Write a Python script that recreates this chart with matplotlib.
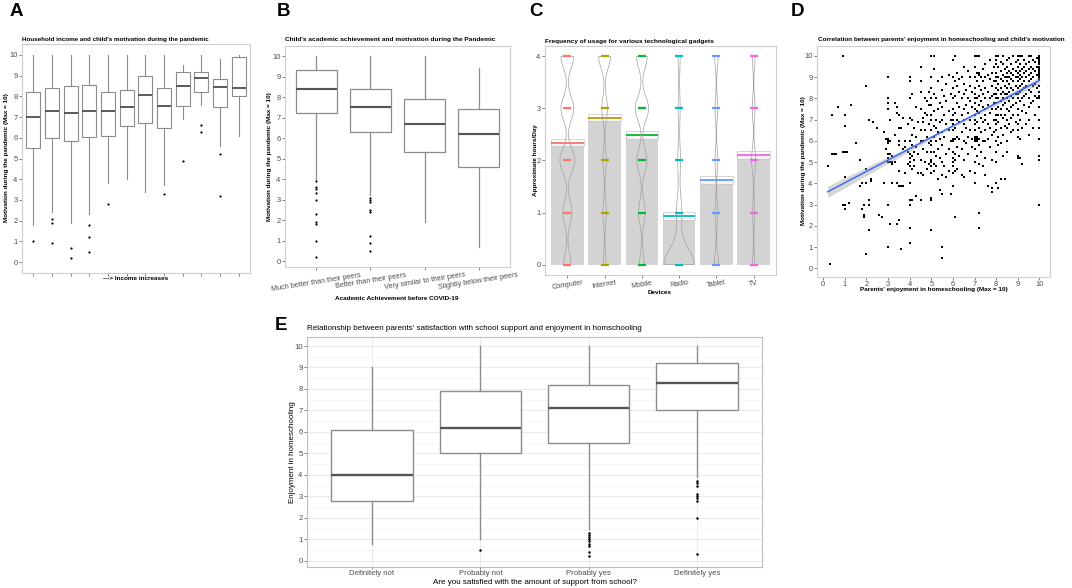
import numpy as np
import matplotlib
matplotlib.use("Agg")
import matplotlib.pyplot as plt
from matplotlib.patches import Rectangle

plt.rcParams['font.family'] = ['Liberation Sans', 'DejaVu Sans']

# ---------------- DATA ----------------
# Panel A: income groups (12) -> motivation
a_med = [7.0, 7.3, 7.2, 7.3, 7.3, 7.5, 8.05, 7.55, 8.5, 8.9, 8.45, 8.4]
a_q1 = [5.5, 6.0, 5.85, 6.05, 6.1, 6.55, 6.7, 6.45, 7.55, 8.2, 7.5, 8.0]
a_q3 = [8.2, 8.4, 8.5, 8.55, 8.2, 8.3, 9.0, 8.4, 9.2, 9.2, 8.85, 9.9]
a_lo = [1.8, 2.4, 1.9, 2.3, 3.8, 4.0, 3.4, 3.7, 6.9, 7.6, 5.6, 6.1]
a_hi = [10, 10, 10, 10, 10, 10, 10, 10, 9.5, 10, 9.8, 10]
a_out = [[1.0], [2.1, 1.9, 0.9], [0.7, 0.2], [1.8, 1.2, 0.5], [2.8], [], [], [3.3],
         [4.9], [6.6, 6.3], [5.2, 3.2], []]

# Panel B: academic achievement -> motivation
b_cats = ["Much better than their peers", "Better than their peers",
          "Very similar to their peers", "Slightly below their peers"]
b_med = [8.4, 7.5, 6.7, 6.2]
b_q1 = [7.2, 6.3, 5.3, 4.6]
b_q3 = [9.3, 8.4, 7.9, 7.4]
b_lo = [4.0, 3.2, 1.9, 0.7]
b_hi = [10, 10, 10, 9.4]
b_out = [[3.9, 3.6, 3.5, 3.3, 3.0, 2.3, 1.9, 1.8, 1.0, 0.2],
         [3.1, 3.0, 2.9, 2.5, 2.4, 1.2, 0.9, 0.5], [], []]

# Panel C: devices
c_devices = ["Computer", "Internet", "Mobile", "Radio", "Tablet", "TV"]
c_colors = ["#F8766D", "#B79F00", "#00BA38", "#00BFC4", "#619CFF", "#F564E3"]
c_mean = [2.34, 2.82, 2.49, 0.94, 1.63, 2.11]
c_se = [0.07, 0.07, 0.075, 0.075, 0.08, 0.075]
c_levels = [0, 1, 2, 3, 4]
c_counts = [[10, 13, 21, 18, 18],
            [4, 5, 5, 8, 17],
            [7, 10, 15, 20, 16],
            [45, 8, 4, 3, 3],
            [6, 4, 4, 4, 5],
            [3, 3, 6, 4, 4]]
c_vwidth = [0.40, 0.32, 0.36, 0.82, 0.11, 0.11]
c_bw = [0.22, 0.22, 0.22, 0.30, 0.22, 0.22]

# Panel D: parents' enjoyment (x columns) vs child motivation (y values)
d_x_cols = [0.2, 0.3, 0.4, 0.5, 0.6, 0.7, 0.9, 1.0, 1.1, 1.2, 1.3, 1.5, 1.7, 1.8, 1.9,
            2.0, 2.1, 2.2, 2.3, 2.5, 2.6, 2.7, 2.8, 2.9, 3.0, 3.1, 3.2, 3.3, 3.4, 3.5,
            3.6, 3.7, 3.8, 3.9, 4.0, 4.1, 4.2, 4.3, 4.4, 4.5, 4.6, 4.7, 4.8, 4.9, 5.0,
            5.1, 5.2, 5.3, 5.4, 5.5, 5.6, 5.7, 5.8, 5.9, 6.0, 6.1, 6.2, 6.3, 6.4, 6.5,
            6.6, 6.7, 6.8, 6.9, 7.0, 7.1, 7.2, 7.3, 7.4, 7.5, 7.6, 7.7, 7.8, 7.9, 8.0,
            8.1, 8.2, 8.3, 8.4, 8.5, 8.6, 8.7, 8.8, 8.9, 9.0, 9.1, 9.2, 9.3, 9.4, 9.5,
            9.6, 9.7, 9.8, 9.9, 10.0]
d_y_cols = [
    [4.8], [0.2], [7.2, 5.4], [5.4], [5.4], [7.6], [10.0, 5.5, 3.0],
    [7.2, 6.7, 5.5, 4.3, 3.0, 2.8], [5.5], [3.1], [7.7], [5.9], [5.1, 3.9],
    [4.0, 2.8], [3.0, 2.5, 2.4], [8.6, 4.7, 4.0, 0.7], [7.0, 3.2, 3.0, 1.8],
    [4.2, 4.1], [6.9], [6.6], [2.5], [2.4], [6.4, 4.0], [6.1, 5.6],
    [9.0, 8.0, 7.8, 7.5, 6.1, 6.0, 5.9, 5.4, 5.2, 5.0, 3.0, 1.0],
    [7.0, 6.0, 5.4, 5.0, 2.1], [5.3, 5.0, 4.9, 4.0], [7.8, 6.3, 5.0],
    [7.6, 7.3, 4.0, 2.1], [7.2, 6.6, 6.0, 5.8, 4.6, 3.9, 2.3], [6.6, 3.9, 0.9],
    [7.1, 5.6, 3.9], [6.0, 5.7, 4.5], [6.8, 5.5, 4.9],
    [9.0, 8.8, 8.0, 7.1, 6.0, 5.4, 5.2, 5.0, 4.8, 4.0, 3.2, 3.0, 1.9, 1.2],
    [8.2, 7.0, 6.3, 5.8, 5.3, 4.7, 3.2], [6.6, 5.5, 5.1, 4.8], [7.6, 6.2, 5.7, 3.4],
    [6.9, 5.4, 4.5], [9.5, 8.8, 8.3, 7.5, 6.5, 6.0, 5.1, 4.5, 3.2],
    [7.1, 6.9, 6.0, 5.6, 4.4], [8.0, 7.3, 6.5, 5.0], [7.9, 7.2, 6.2, 5.5, 4.7],
    [8.3, 7.7, 6.8, 5.9, 4.9],
    [10.0, 9.0, 8.5, 8.0, 7.7, 7.2, 7.0, 6.5, 6.0, 5.8, 5.5, 5.1, 5.0, 4.8, 4.5, 3.3, 3.2, 1.8],
    [10.0, 9.4, 8.2, 7.4, 6.7, 6.2, 5.5, 4.9, 4.6], [8.0, 7.0, 6.6, 6.0, 5.3, 4.8],
    [8.8, 7.5, 6.4, 5.6, 4.2], [7.8, 6.9, 6.1, 5.2, 3.7],
    [9.0, 8.4, 7.6, 7.0, 6.4, 5.8, 5.0, 4.4, 3.5, 1.0, 0.5], [8.1, 7.2, 6.2, 4.8],
    [8.7, 7.9, 6.8, 5.4, 4.3], [9.1, 7.4, 6.5, 5.6, 4.6], [8.2, 7.0, 6.0, 3.5],
    [9.8, 9.0, 8.5, 8.0, 7.5, 7.2, 7.0, 6.8, 6.5, 6.1, 6.0, 5.5, 5.2, 5.0, 4.8, 4.5, 3.9],
    [10.0, 8.8, 8.1, 7.3, 6.6, 6.1, 5.4, 5.1, 4.6, 2.4], [9.2, 8.6, 7.8, 7.0, 6.2, 5.7, 4.7],
    [8.9, 8.3, 7.6, 6.9, 6.1, 5.3], [9.0, 8.0, 7.2, 6.4, 5.6, 4.4],
    [9.5, 8.7, 8.2, 7.5, 7.0, 6.8, 6.0, 5.1, 4.3], [8.4, 7.7, 6.6, 5.9],
    [9.3, 8.0, 7.3, 6.2, 5.4], [9.0, 8.6, 7.9, 7.0, 6.5, 4.6], [8.3, 7.6, 6.1, 5.7],
    [10.0, 9.5, 9.0, 8.5, 8.2, 8.0, 7.8, 7.5, 7.2, 7.0, 6.8, 6.5, 6.2, 6.1, 6.0, 5.6, 5.0, 4.5, 4.0],
    [10.0, 9.2, 8.8, 8.0, 7.4, 6.9, 6.2, 6.1, 6.0, 5.3],
    [10.0, 9.2, 9.1, 8.6, 8.1, 7.7, 7.3, 6.6, 6.1, 5.8, 4.9, 2.6, 1.9],
    [9.0, 8.4, 7.9, 7.1, 6.4, 5.5], [9.4, 8.8, 8.2, 7.6, 6.9, 6.0, 4.8],
    [9.6, 9.0, 8.5, 8.0, 7.5, 7.2, 7.0, 6.5, 6.0, 5.2, 4.4], [9.1, 8.3, 7.7, 6.8, 6.1, 3.9],
    [9.8, 8.9, 8.0, 7.3, 6.6, 5.7], [9.2, 8.6, 8.1, 7.5, 6.3, 5.1, 3.8, 3.6],
    [9.5, 8.8, 8.2, 7.8, 7.0, 6.4],
    [10.0, 9.8, 9.6, 9.2, 9.0, 8.8, 8.5, 8.2, 8.0, 7.8, 7.5, 7.2, 7.0, 6.8, 6.5, 6.0, 5.5, 5.0, 4.0],
    [10.0, 9.5, 9.0, 8.7, 8.4, 8.0, 7.6, 7.2, 6.9, 6.2, 5.8, 3.8],
    [9.7, 9.3, 8.9, 8.5, 8.2, 7.9, 7.5, 7.2, 6.6, 5.9, 4.2],
    [10.0, 9.6, 9.1, 8.8, 8.3, 8.0, 7.7, 7.1, 6.3, 5.3],
    [9.4, 9.0, 8.6, 8.2, 7.8, 7.2, 6.7, 4.2],
    [9.8, 9.5, 9.2, 9.0, 8.8, 8.5, 8.2, 8.0, 7.5, 7.0, 6.6, 6.0, 5.5],
    [9.9, 9.3, 9.0, 8.7, 8.3, 7.9, 7.4, 6.8], [9.6, 9.2, 8.9, 8.5, 8.1, 7.6, 7.1, 6.4],
    [10.0, 9.4, 9.1, 8.8, 8.4, 8.0, 7.7, 7.2, 6.5], [9.7, 9.3, 9.0, 8.6, 8.2, 7.8, 6.9],
    [10.0, 9.8, 9.5, 9.2, 9.0, 8.8, 8.5, 8.2, 8.0, 7.5, 7.2, 6.8, 6.5, 6.2, 5.3, 5.2],
    [10.0, 9.6, 9.3, 9.1, 8.9, 8.6, 8.3, 7.9, 7.0, 6.1, 5.2],
    [10.0, 9.4, 9.0, 8.7, 8.4, 8.0, 7.4, 6.6, 4.9], [9.8, 9.5, 9.2, 8.8, 8.5, 8.1, 7.7],
    [9.6, 9.3, 9.0, 8.6, 8.2, 7.3, 6.8],
    [10.0, 9.7, 9.4, 9.1, 8.8, 8.4, 8.0, 7.6, 7.0, 6.3],
    [10.0, 9.5, 9.2, 8.9, 8.3, 7.8], [9.8, 9.4, 9.0, 8.6, 7.9, 6.6],
    [9.7, 9.3, 8.7, 8.1, 7.2], [9.9, 9.5, 9.1, 8.5, 8.0],
    [10.0, 9.9, 9.8, 9.7, 9.6, 9.5, 9.4, 9.3, 9.2, 9.1, 9.0, 8.9, 8.6, 8.3, 8.1, 8.0,
     7.6, 7.0, 6.6, 6.1, 5.3, 5.1, 3.0]]
d_fit_intercept = 3.50
d_fit_slope = 0.535
d_ci_center = 6.3
d_ci_min = 0.07       # half-width of CI band at its narrowest
d_ci_left = 0.27      # half-width at x = 0.2

# Panel E: satisfaction with school support -> enjoyment
e_cats = ["Definitely not", "Probably not", "Probably yes", "Definitely yes"]
e_med = [4.0, 6.2, 7.1, 8.3]
e_q1 = [2.8, 5.0, 5.5, 7.0]
e_q3 = [6.1, 7.9, 8.2, 9.2]
e_lo = [0.8, 1.0, 1.5, 3.9]
e_hi = [9.0, 10, 10, 10]
e_out = [[], [0.5], [1.3, 1.2, 1.1, 1.0, 0.9, 0.8, 0.7, 0.4, 0.2],
         [3.7, 3.6, 3.5, 3.1, 3.0, 2.9, 2.8, 2.0, 0.3]]

# ---------------- FIGURE ----------------
W, H = 1072, 588
fig = plt.figure(figsize=(W / 100, H / 100), dpi=100)
fig.patch.set_facecolor('white')


def ax_px(l, t, r, b):
    return fig.add_axes([l / W, 1 - b / H, (r - l) / W, (b - t) / H])


def ftxt(x, y, s, **kw):
    fig.text(x / W, 1 - y / H, s, **kw)


TICKC = '#4d4d4d'
BORDER = '#cfcfcf'


def style(ax, fs=5.4):
    for sp in ax.spines.values():
        sp.set_color(BORDER)
        sp.set_linewidth(0.8)
    ax.tick_params(axis='both', labelsize=fs, colors=TICKC, length=2, width=0.5, pad=1.2)
    ax.set_facecolor('white')


def make_stats(med, q1, q3, lo, hi, out):
    return [dict(med=m, q1=a, q3=b, whislo=l, whishi=h, fliers=o)
            for m, a, b, l, h, o in zip(med, q1, q3, lo, hi, out)]


def draw_box(ax, stats, lw=0.8, fsz=1.6):
    ax.bxp(stats, positions=np.arange(1, len(stats) + 1), widths=0.75,
           patch_artist=True, showcaps=False,
           boxprops=dict(facecolor='white', edgecolor='#8c8c8c', linewidth=lw),
           medianprops=dict(color='#555555', linewidth=lw * 1.7),
           whiskerprops=dict(color='#8c8c8c', linewidth=lw),
           flierprops=dict(marker='o', markersize=fsz, markerfacecolor='black',
                           markeredgecolor='black', markeredgewidth=0))


title_fs = 4.65
lab_fs = 4.6

# ---- Panel A ----
axA = ax_px(22, 44, 250, 273)
style(axA)
draw_box(axA, make_stats(a_med, a_q1, a_q3, a_lo, a_hi, a_out))
axA.set_xlim(0.4, 12.6)
axA.set_ylim(-0.53, 10.53)
axA.set_yticks(range(0, 11))
axA.set_xticks(np.arange(1, 13))
axA.set_xticklabels([])
ftxt(22, 39, "Household income and child's motivation during the pandemic",
     fontsize=4.5, fontweight='bold', ha='left', va='center')
ftxt(136, 278, "---> Income increases", fontsize=lab_fs, fontweight='bold',
     ha='center', va='center')
ftxt(7, 158, "Motivation during the pandemic (Max = 10)", fontsize=lab_fs,
     fontweight='bold', rotation=90, ha='center', va='center')

# ---- Panel B ----
axB = ax_px(285, 46, 510, 267)
style(axB)
draw_box(axB, make_stats(b_med, b_q1, b_q3, b_lo, b_hi, b_out), lw=0.9)
axB.set_xlim(0.42, 4.58)
axB.set_ylim(-0.29, 10.49)
axB.set_yticks(range(0, 11))
axB.set_xticks(np.arange(1, 5))
axB.set_xticklabels(b_cats, rotation=9, ha='center', fontsize=5.2)
ftxt(285, 39, "Child's academic achievement and motivation during the Pandemic",
     fontsize=title_fs, fontweight='bold', ha='left', va='center')
ftxt(397, 298, "Academic Achievement before COVID-19", fontsize=lab_fs,
     fontweight='bold', ha='center', va='center')
ftxt(269, 157, "Motivation during the pandemic (Max = 10)", fontsize=lab_fs,
     fontweight='bold', rotation=90, ha='center', va='center')

# ---- Panel C ----
axC = ax_px(545, 46, 776, 275)
style(axC)
pos = np.arange(1, len(c_devices) + 1)
bw_bar = 0.87
axC.bar(pos, c_mean, width=bw_bar, color='#d3d3d3', zorder=1)
for i, p in enumerate(pos):
    m, s = c_mean[i], c_se[i]
    axC.add_patch(Rectangle((p - bw_bar / 2, m - s), bw_bar, 2 * s, facecolor='white',
                            alpha=0.75, edgecolor='#bdbdbd', linewidth=0.6, zorder=2))
    axC.plot([p - bw_bar / 2, p + bw_bar / 2], [m, m], color=c_colors[i], lw=1.3,
             zorder=3, solid_capstyle='butt')
    data = np.repeat(c_levels, c_counts[i]).astype(float)
    parts = axC.violinplot([data], positions=[p], widths=[c_vwidth[i]],
                           showextrema=False, bw_method=c_bw[i] / data.std())
    for body in parts['bodies']:
        body.set_facecolor('none')
        body.set_edgecolor('#a0a0a0')
        body.set_linewidth(0.5)
        body.set_alpha(1)
        body.set_zorder(4)
    axC.plot(np.full(len(c_levels), p), c_levels, linestyle='none', marker='_',
             markersize=6, markeredgewidth=1.6, color=c_colors[i], zorder=5)
axC.set_xlim(0.4, 6.6)
axC.set_ylim(-0.2, 4.2)
axC.set_yticks(range(0, 5))
axC.set_xticks(pos)
axC.set_xticklabels(c_devices, rotation=9, ha='center', fontsize=5.2)
ftxt(545, 41, "Frequency of usage for various technological gadgets",
     fontsize=title_fs, fontweight='bold', ha='left', va='center')
ftxt(660, 293, "Devices", fontsize=lab_fs, fontweight='bold', ha='center', va='center')
ftxt(535, 160, "Approximate hours/Day", fontsize=lab_fs, fontweight='bold',
     rotation=90, ha='center', va='center')

# ---- Panel D ----
axD = ax_px(817, 46, 1050, 277)
style(axD)
dx = np.concatenate([np.full(len(ys), x) for x, ys in zip(d_x_cols, d_y_cols)])
dy = np.concatenate([np.array(ys, dtype=float) for ys in d_y_cols])
axD.scatter(dx, dy, s=2.4, marker='s', color='black', linewidths=0, zorder=3)
xs = np.linspace(min(d_x_cols), max(d_x_cols), 100)
fit = d_fit_intercept + d_fit_slope * xs
k = (d_ci_left ** 2 - d_ci_min ** 2) / (min(d_x_cols) - d_ci_center) ** 2
half = np.sqrt(d_ci_min ** 2 + k * (xs - d_ci_center) ** 2)
axD.fill_between(xs, fit - half, fit + half, color='#999999', alpha=0.4, linewidth=0, zorder=4)
axD.plot(xs, fit, color='#3366FF', lw=1.0, zorder=5)
axD.set_xlim(-0.29, 10.49)
axD.set_ylim(-0.4, 10.47)
axD.set_xticks(range(0, 11))
axD.set_yticks(range(0, 11))
ftxt(818, 40, "Correlation between parents' enjoyment in homeschooling and child's motivation",
     fontsize=4.55, fontweight='bold', ha='left', va='center')
ftxt(934, 290, "Parents' enjoyment in homeschooling (Max = 10)", fontsize=lab_fs,
     fontweight='bold', ha='center', va='center')
ftxt(803, 161, "Motivation during the pandemic (Max = 10)", fontsize=lab_fs,
     fontweight='bold', rotation=90, ha='center', va='center')

# ---- Panel E ----
axE = ax_px(307, 337, 762, 567)
style(axE, fs=5.6)
axE.tick_params(axis='x', pad=0.6, length=1.5)
for sp in axE.spines.values():
    sp.set_color('#bdbdbd')
axE.set_axisbelow(True)
axE.set_yticks(range(0, 11))
axE.set_yticks(np.arange(0.5, 10.5, 1), minor=True)
axE.grid(True, which='major', axis='both', color='#e6e6e6', lw=0.6)
axE.grid(True, which='minor', axis='y', color='#f0f0f0', lw=0.4)
axE.tick_params(which='minor', length=0)
draw_box(axE, make_stats(e_med, e_q1, e_q3, e_lo, e_hi, e_out), lw=1.0, fsz=1.8)
axE.set_xlim(0.4, 4.6)
axE.set_ylim(-0.29, 10.42)
axE.set_xticks(np.arange(1, 5))
axE.set_xticklabels(e_cats, fontsize=5.6)
ftxt(307, 329, "Relationship between parents' satisfaction with school support and enjoyment in homschooling",
     fontsize=5.8, ha='left', va='center')
ftxt(535, 582, "Are you satisfied with the amount of support from school?", fontsize=5.8,
     ha='center', va='center')
ftxt(292, 452, "Enjoyment in homeschooling", fontsize=5.8, rotation=90,
     ha='center', va='center')

# ---- Panel letters ----
for letter, x, y in [("A", 16, 12), ("B", 284, 12), ("C", 536, 12), ("D", 797, 12),
                     ("E", 281, 325)]:
    ftxt(x, y, letter, fontsize=13.5, fontweight='bold', ha='center', va='center')

fig.savefig("out.png", dpi=100, facecolor='white')
